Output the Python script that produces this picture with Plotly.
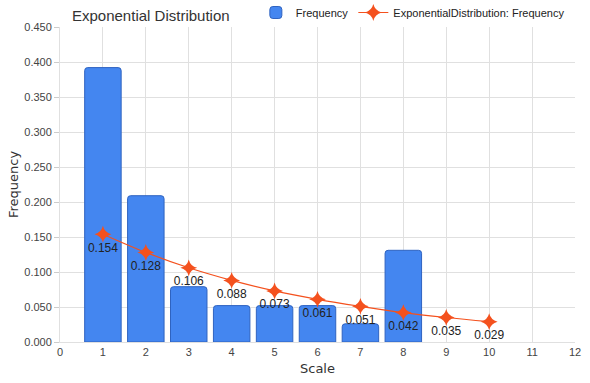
import plotly.graph_objects as go

scale = [1, 2, 3, 4, 5, 6, 7, 8, 9, 10]
frequency = [0.392, 0.209, 0.079, 0.052, 0.052, 0.052, 0.026, 0.131, None, None]
exp_freq = [0.154, 0.128, 0.106, 0.088, 0.073, 0.061, 0.051, 0.042, 0.035, 0.029]
exp_labels = ["0.154", "0.128", "0.106", "0.088", "0.073", "0.061", "0.051", "0.042", "0.035", "0.029"]

font = "Liberation Sans"
tfont = "DejaVu Sans"

fig = go.Figure()
fig.add_trace(go.Bar(
    x=scale, y=frequency, name="Frequency", width=0.85,
    marker=dict(color="#4486f0", line=dict(color="#2f63c0", width=1)),
))
fig.add_trace(go.Scatter(
    x=scale, y=exp_freq, name="ExponentialDistribution: Frequency",
    mode="lines+markers+text", text=exp_labels, textposition="bottom center",
    textfont=dict(size=12, color="#222", family=font),
    line=dict(color="#f4511e", width=1.2, shape="spline"),
    marker=dict(symbol="star-diamond", size=12, color="#f4511e"),
))

fig.update_layout(
    width=590, height=383,
    margin=dict(l=60, r=15, t=27, b=41, autoexpand=False),
    paper_bgcolor="white", plot_bgcolor="white",
    barcornerradius=3,
    title=dict(text="Exponential Distribution", x=72/590, xanchor="left", y=1-16/383, yanchor="middle",
               font=dict(family=font, size=15, color="#333")),
    legend=dict(orientation="h", x=0.99, xanchor="right", y=1.0, yanchor="bottom",
                font=dict(family=font, size=11, color="#222"), itemwidth=30,
                bgcolor="rgba(0,0,0,0)"),
    xaxis=dict(range=[0, 12], tickmode="linear", tick0=0, dtick=1,
               showgrid=True, gridcolor="#e0e0e0", zeroline=False,
               showline=True, linecolor="#e0e0e0",
               tickfont=dict(family=font, size=11, color="#444"),
               title=dict(text="Scale", font=dict(family=tfont, size=13, color="#333"), standoff=6)),
    yaxis=dict(range=[0, 0.45], tickmode="linear", tick0=0, dtick=0.05, tickformat=".3f",
               showgrid=True, gridcolor="#e0e0e0", zeroline=False,
               showline=True, linecolor="#e0e0e0", ticks="outside", ticklen=5, tickcolor="#ccc",
               tickfont=dict(family=font, size=11, color="#444"),
               title=dict(text="Frequency", font=dict(family=tfont, size=13, color="#333"), standoff=2)),
)

fig.write_html("out.html", config={"displayModeBar": False},
               post_script="document.body.style.margin='0';")
